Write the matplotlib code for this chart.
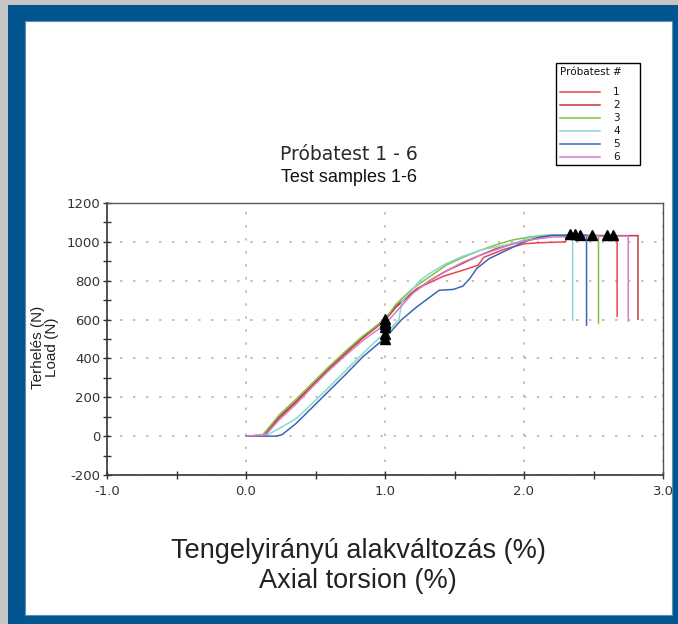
import matplotlib
matplotlib.use("Agg")
import matplotlib.pyplot as plt
from matplotlib.patches import Rectangle
from matplotlib.ticker import MultipleLocator, FormatStrFormatter

plt.rcParams["axes.unicode_minus"] = False

W, H = 678, 624

# ---------------- data ----------------
labels = ["1", "2", "3", "4", "5", "6"]
colors = ["#e8464a", "#c9363a", "#7cc444", "#88d8d2", "#3b66b8", "#d47cc8"]

x1 = [0.0, 0.12, 0.24, 0.36, 0.48, 0.60, 0.72, 0.84, 1.00, 1.08, 1.23, 1.42, 1.56, 1.67, 1.71, 1.85, 2.00, 2.10, 2.30, 2.30, 2.67, 2.67]
y1 = [0, 5, 100, 180, 265, 352, 430, 508, 605, 670, 760, 823, 854, 880, 920, 960, 990, 995, 1000, 1032, 1032, 617]

x2 = [0.0, 0.13, 0.24, 0.36, 0.48, 0.60, 0.72, 0.84, 1.00, 1.08, 1.20, 1.32, 1.44, 1.56, 1.68, 1.80, 1.92, 2.04, 2.20, 2.82, 2.82]
y2 = [0, 5, 95, 175, 262, 348, 428, 505, 595, 665, 738, 800, 850, 890, 930, 965, 990, 1010, 1032, 1032, 602]

x3 = [0.0, 0.12, 0.24, 0.36, 0.48, 0.60, 0.72, 0.84, 1.00, 1.08, 1.20, 1.32, 1.44, 1.56, 1.68, 1.80, 1.92, 2.04, 2.15, 2.536, 2.536]
y3 = [0, 5, 110, 190, 275, 360, 440, 515, 600, 680, 760, 820, 880, 920, 955, 985, 1010, 1025, 1034, 1034, 580]

x4 = [0.0, 0.15, 0.24, 0.36, 0.48, 0.60, 0.72, 0.84, 0.95, 1.05, 1.10, 1.12, 1.25, 1.32, 1.44, 1.56, 1.70, 1.92, 2.04, 2.20, 2.35, 2.35]
y4 = [0, 5, 40, 90, 170, 254, 340, 425, 500, 560, 600, 690, 800, 837, 888, 926, 960, 991, 1020, 1034, 1034, 597]

x5 = [0.0, 0.22, 0.26, 0.36, 0.48, 0.60, 0.72, 0.84, 1.00, 1.12, 1.23, 1.39, 1.49, 1.56, 1.61, 1.66, 1.75, 1.875, 2.00, 2.10, 2.20, 2.45, 2.45]
y5 = [0, 0, 8, 65, 150, 235, 320, 408, 505, 600, 666, 751, 755, 772, 811, 863, 914, 957, 1000, 1022, 1034, 1034, 571]

x6 = [0.0, 0.14, 0.24, 0.36, 0.48, 0.60, 0.72, 0.84, 1.00, 1.08, 1.20, 1.32, 1.44, 1.56, 1.68, 1.80, 1.92, 2.04, 2.20, 2.75, 2.75]
y6 = [0, 5, 85, 165, 255, 340, 418, 492, 575, 640, 735, 800, 850, 895, 930, 960, 990, 1010, 1025, 1030, 593]

series_x = [x1, x2, x3, x4, x5, x6]
series_y = [y1, y2, y3, y4, y5, y6]

# marker points (triangles)
mark_x = [1.0, 1.0, 1.0, 1.0, 1.0, 1.0, 2.33, 2.37, 2.40, 2.49, 2.60, 2.64]
mark_y = [605, 590, 575, 560, 525, 500, 1038, 1038, 1036, 1036, 1034, 1036]

title1 = "Próbatest 1 - 6"
title2 = "Test samples 1-6"
xlabel = "Tengelyirányú alakváltozás (%)\nAxial torsion (%)"
ylabel = "Terhelés (N)\nLoad (N)"
legend_title = "Próbatest #"

# ---------------- figure ----------------
fig = plt.figure(figsize=(W / 100, H / 100), dpi=100)
fig.patch.set_facecolor("#c6c6c6")

def px_rect(x0, y0, x1_, y1_, **kw):
    r = Rectangle((x0 / W, 1 - y1_ / H), (x1_ - x0) / W, (y1_ - y0) / H,
                  transform=fig.transFigure, **kw)
    fig.add_artist(r)
    return r

px_rect(8, 5, 678, 624, facecolor="#02558f", edgecolor="none", zorder=-20)
px_rect(25, 21, 672, 615, facecolor="white", edgecolor="#5a8fc0", linewidth=0.8, zorder=-19)

ax = fig.add_axes([107 / W, 1 - 475 / H, 556 / W, 272 / H])
ax.set_facecolor("white")

for xs, ys, c, lab in zip(series_x, series_y, colors, labels):
    ax.plot(xs, ys, color=c, linewidth=1.1, label=lab, zorder=3)

ax.plot(mark_x, mark_y, linestyle="none", marker="^", color="black",
        markersize=6.5, zorder=5)

ax.set_xlim(-1.0, 3.0)
ax.set_ylim(-200, 1200)
ax.xaxis.set_major_locator(MultipleLocator(1.0))
ax.xaxis.set_minor_locator(MultipleLocator(0.5))
ax.yaxis.set_major_locator(MultipleLocator(200))
ax.yaxis.set_minor_locator(MultipleLocator(100))
ax.xaxis.set_major_formatter(FormatStrFormatter("%.1f"))

ax.tick_params(which="both", direction="inout", length=6, width=1, color="#333333",
               labelsize=9.5, labelcolor="#333333")
ax.tick_params(axis="x", which="major", pad=4)
ax.tick_params(axis="y", which="major", pad=2)
for lab_ in ax.get_xticklabels() + ax.get_yticklabels():
    lab_.set_family("DejaVu Sans")

ax.grid(True, which="major", color="#c8c0a4", linestyle=(0, (1.2, 5.5)), linewidth=1.4)
for s in ["left", "bottom"]:
    ax.spines[s].set_color("#333333")
    ax.spines[s].set_linewidth(1.2)
for s in ["top", "right"]:
    ax.spines[s].set_color("#555555")
    ax.spines[s].set_linewidth(1.0)

# titles and labels
fig.text(349 / W, 1 - 155 / H, title1, ha="center", va="center", fontsize=13.5,
         family="DejaVu Sans", color="#2a2a2a")
fig.text(349 / W, 1 - 177 / H, title2, ha="center", va="center", fontsize=13,
         family="Liberation Sans", color="#111111")
fig.text(45 / W, 1 - 347 / H, ylabel, ha="center", va="center", rotation=90,
         fontsize=11, family="Liberation Sans", color="#222222", multialignment="center",
         linespacing=1.0)
fig.text(358 / W, 1 - 566 / H, xlabel, ha="center", va="center", fontsize=19.5,
         family="Liberation Sans", color="#222222", multialignment="center",
         linespacing=1.15)

# legend: frame + title + entries
px_rect(556, 63, 640, 165, facecolor="white", edgecolor="black", linewidth=1.0, zorder=4)
fig.text(560 / W, 1 - 72 / H, legend_title, ha="left", va="center", fontsize=7.5,
         family="DejaVu Sans", color="#111111", zorder=6)
handles, labs = ax.get_legend_handles_labels()
leg = fig.legend(handles, labs, loc="upper left",
                 bbox_to_anchor=(556 / W, 1 - 83 / H), bbox_transform=fig.transFigure,
                 fontsize=7.5, frameon=False,
                 handlelength=3.85, handletextpad=1.25, labelspacing=0.29,
                 borderpad=0.4, borderaxespad=0)
leg.set_zorder(6)
for t in leg.get_texts():
    t.set_family("DejaVu Sans")
    t.set_color("#111111")

fig.savefig("out.png", dpi=100)
